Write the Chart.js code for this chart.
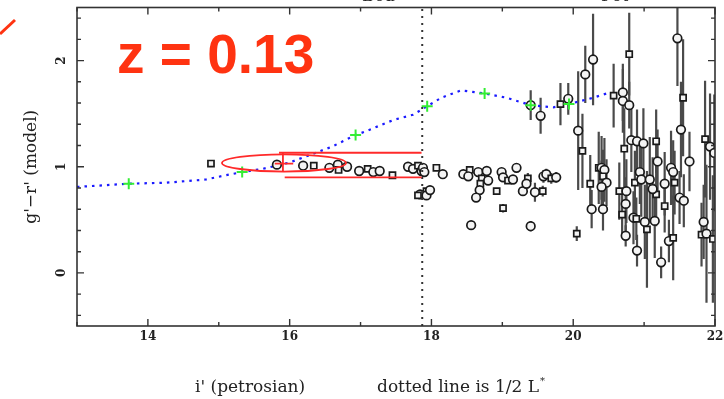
<!DOCTYPE html>
<html>
<head>
<meta charset="utf-8">
<script src="https://cdn.jsdelivr.net/npm/chart.js@4.4.1/dist/chart.umd.min.js"></script>
<style>
  body { margin: 0; background: #fff; }
  canvas { display: block; }
</style>
</head>
<body>
<canvas id="chart" width="724" height="399"></canvas>
<script>
// galaxies: i' petrosian magnitude, g'-r' model colour, error on colour
const galMag = [
  14.89, 15.82, 16.19, 16.34, 16.56, 16.68, 16.69, 16.81, 16.98, 17.10,
  17.18, 17.27, 17.45, 17.67, 17.74, 17.81, 17.86, 17.84, 17.93, 17.88,
  17.90, 17.81, 17.93, 17.98, 18.07, 18.16, 18.45, 18.54, 18.52, 18.66,
  18.71, 18.78, 18.80, 18.69, 18.68, 18.63, 18.92, 18.99, 19.01, 19.08,
  19.15, 19.20, 19.01, 18.56, 19.29, 19.36, 19.34, 19.46, 19.57, 19.58,
  19.62, 19.69, 19.76, 19.40, 20.05, 19.40, 19.54, 19.82, 19.93,
  20.07, 20.13, 20.17, 20.28, 20.57, 20.70, 20.70, 20.79, 20.79, 20.82,
  20.72, 20.90, 20.99, 21.17, 21.19, 21.47, 21.55, 21.52, 21.64, 21.86,
  21.93, 21.99, 20.36, 20.40, 20.44, 20.42, 20.47, 20.40, 20.24, 20.26,
  20.42, 20.65, 20.75, 20.74, 20.69, 20.74, 20.85, 20.89, 20.90, 20.94,
  20.87, 20.96, 21.01, 21.04, 21.08, 21.15, 21.17, 21.12, 21.29, 21.29,
  21.24, 21.35, 21.41, 21.38, 21.41, 21.43, 21.50, 21.56, 21.81, 21.84,
  21.88, 21.97
];
const galColor = [
  1.03, 1.02, 1.01, 1.01, 0.99, 1.02, 0.97, 1.00, 0.96, 0.98,
  0.95, 0.96, 0.92, 1.00, 0.98, 1.01, 0.96, 0.74, 0.77, 0.99,
  0.95, 0.73, 0.73, 0.78, 0.99, 0.93, 0.93, 0.97, 0.91, 0.95,
  0.89, 0.96, 0.87, 0.84, 0.78, 0.71, 0.77, 0.95, 0.90, 0.87,
  0.88, 0.99, 0.61, 0.45, 0.77, 0.89, 0.84, 0.76, 0.77, 0.91,
  0.93, 0.89, 0.90, 0.44, 0.37, 1.58, 1.48, 1.59, 1.64,
  1.34, 1.15, 1.87, 2.01, 1.67, 1.70, 1.62, 2.06, 1.58, 1.25,
  1.17, 1.24, 1.22, 1.24, 1.05, 2.21, 1.65, 1.35, 1.05, 1.26,
  1.19, 1.13, 0.99, 0.99, 0.97, 0.91, 0.85, 0.81, 0.84, 0.60,
  0.60, 0.77, 0.77, 0.65, 0.55, 0.35, 0.52, 0.51, 0.21, 0.95,
  0.85, 0.88, 0.48, 0.41, 0.88, 0.49, 0.74, 0.79, 0.84, 0.63,
  0.10, 0.30, 0.33, 0.99, 0.95, 0.85, 0.71, 0.68, 0.36, 0.48,
  0.37, 0.32
];
const galErr = [
  0.02, 0.02, 0.02, 0.02, 0.02, 0.02, 0.02, 0.02, 0.02, 0.02,
  0.02, 0.02, 0.03, 0.02, 0.02, 0.02, 0.02, 0.03, 0.03, 0.02,
  0.02, 0.03, 0.03, 0.03, 0.03, 0.03, 0.03, 0.03, 0.03, 0.03,
  0.03, 0.03, 0.03, 0.03, 0.03, 0.03, 0.03, 0.03, 0.03, 0.03,
  0.03, 0.04, 0.04, 0.03, 0.04, 0.05, 0.04, 0.09, 0.05, 0.06,
  0.05, 0.05, 0.05, 0.05, 0.07, 0.14, 0.17, 0.20, 0.15,
  0.56, 0.35, 0.27, 0.43, 0.30, 0.27, 0.30, 0.39, 0.22, 0.30,
  0.38, 0.30, 0.33, 0.30, 0.30, 0.45, 0.55, 0.45, 0.28, 0.55,
  0.50, 0.55, 0.34, 0.30, 0.30, 0.25, 0.22, 0.25, 0.27, 0.18,
  0.20, 0.27, 0.30, 0.25, 0.20, 0.10, 0.25, 0.20, 0.15, 0.30,
  0.30, 0.35, 0.35, 0.55, 0.40, 0.35, 0.30, 0.30, 0.30, 0.25,
  0.15, 0.20, 0.40, 0.35, 0.30, 0.30, 0.25, 0.25, 0.30, 0.35,
  0.65, 0.60
];

// model red sequence (blue dotted) and its marked points (green)
const modelMag = [13.0, 13.73, 14.26, 14.82, 15.1, 15.33, 15.62, 16.0, 16.28, 16.6, 16.93, 17.06,
  17.46, 17.74, 17.94, 18.14, 18.42, 18.75, 19.06, 19.40, 19.72, 19.94, 20.28, 20.52];
const modelColor = [0.81, 0.84, 0.85, 0.88, 0.92, 0.95, 0.98, 1.04, 1.11, 1.19, 1.30, 1.33,
  1.44, 1.49, 1.57, 1.65, 1.72, 1.69, 1.65, 1.58, 1.56, 1.59, 1.65, 1.70];
const markMag = [13.73, 15.33, 16.93, 17.94, 18.75, 19.40, 19.94];
const markColor = [0.84, 0.95, 1.30, 1.57, 1.69, 1.58, 1.59];

// half L* magnitude, BCG ellipse and colour bracket (data units)
const halfLstar = 17.87;
const ellipseCenter = [15.92, 1.036];
const ellipseRadius = [0.875, 0.081];
const bracketLines = [
  [15.85, 1.132, 17.86, 1.132],
  [15.905, 1.132, 15.905, 0.955],
  [15.79, 1.03, 16.05, 1.03],
  [15.93, 0.90, 17.86, 0.90]
];

const xTicks = [14, 16, 18, 20, 22];
const xMinor = [13, 15, 17, 19, 21];
const yTicks = [0, 1, 2];
const yMinor = [-0.4, -0.2, 0.2, 0.4, 0.6, 0.8, 1.2, 1.4, 1.6, 1.8, 2.2, 2.4];

const serif = '"DejaVu Serif", "Liberation Serif", serif';

const errorBars = {
  id: 'errorBars',
  beforeDatasetsDraw(chart) {
    const { ctx, chartArea: a, scales: { x, y } } = chart;
    ctx.save();
    ctx.beginPath();
    ctx.rect(a.left, a.top, a.right - a.left, a.bottom - a.top);
    ctx.clip();
    ctx.strokeStyle = '#4a4a4a';
    ctx.lineWidth = 2.2;
    galMag.forEach((m, i) => {
      const px = x.getPixelForValue(m);
      ctx.beginPath();
      ctx.moveTo(px, y.getPixelForValue(galColor[i] + galErr[i]));
      ctx.lineTo(px, y.getPixelForValue(galColor[i] - galErr[i]));
      ctx.stroke();
    });
    ctx.restore();
  }
};

const overlays = {
  id: 'overlays',
  afterDatasetsDraw(chart) {
    const { ctx, chartArea: a, scales: { x, y } } = chart;
    ctx.save();
    ctx.beginPath();
    ctx.rect(a.left, a.top, a.right - a.left, a.bottom - a.top);
    ctx.clip();

    // dotted half L* line
    ctx.strokeStyle = '#333';
    ctx.lineWidth = 2;
    ctx.setLineDash([2, 5]);
    const lx = x.getPixelForValue(halfLstar);
    ctx.beginPath();
    ctx.moveTo(lx, a.bottom);
    ctx.lineTo(lx, a.top);
    ctx.stroke();
    ctx.setLineDash([]);

    // BCG ellipse + bracket
    ctx.strokeStyle = '#ff2a2a';
    ctx.lineWidth = 1.8;
    const cx = x.getPixelForValue(ellipseCenter[0]);
    const cy = y.getPixelForValue(ellipseCenter[1]);
    const rx = Math.abs(x.getPixelForValue(ellipseCenter[0] + ellipseRadius[0]) - cx);
    const ry = Math.abs(y.getPixelForValue(ellipseCenter[1] + ellipseRadius[1]) - cy);
    ctx.beginPath();
    ctx.ellipse(cx, cy, rx, ry, 0, 0, Math.PI * 2);
    ctx.stroke();
    bracketLines.forEach(([x1, y1, x2, y2]) => {
      ctx.beginPath();
      ctx.moveTo(x.getPixelForValue(x1), y.getPixelForValue(y1));
      ctx.lineTo(x.getPixelForValue(x2), y.getPixelForValue(y2));
      ctx.stroke();
    });
    ctx.restore();
  },
  afterDraw(chart) {
    const { ctx, chartArea: a, scales: { x, y } } = chart;
    ctx.save();

    // frame
    ctx.strokeStyle = '#333';
    ctx.lineWidth = 1.6;
    ctx.strokeRect(a.left, a.top, a.right - a.left, a.bottom - a.top);

    // inward ticks on all sides
    ctx.lineWidth = 1.4;
    const xt = (v, len) => {
      const px = x.getPixelForValue(v);
      ctx.beginPath();
      ctx.moveTo(px, a.bottom); ctx.lineTo(px, a.bottom - len);
      ctx.moveTo(px, a.top); ctx.lineTo(px, a.top + len);
      ctx.stroke();
    };
    const yt = (v, len) => {
      const py = y.getPixelForValue(v);
      ctx.beginPath();
      ctx.moveTo(a.left, py); ctx.lineTo(a.left + len, py);
      ctx.moveTo(a.right, py); ctx.lineTo(a.right - len, py);
      ctx.stroke();
    };
    xTicks.forEach(v => xt(v, 7));
    xMinor.forEach(v => xt(v, 4));
    yTicks.forEach(v => yt(v, 7));
    yMinor.forEach(v => yt(v, 4));

    // tick labels
    ctx.fillStyle = '#222';
    ctx.font = 'bold 12px ' + serif;
    ctx.textAlign = 'center';
    ctx.textBaseline = 'middle';
    xTicks.forEach(v => ctx.fillText(String(v), x.getPixelForValue(v), 337));
    yTicks.forEach(v => {
      ctx.save();
      ctx.translate(62, y.getPixelForValue(v));
      ctx.rotate(-Math.PI / 2);
      ctx.fillText(String(v), 0, 0);
      ctx.restore();
    });

    // axis titles
    ctx.font = '17px ' + serif;
    ctx.textBaseline = 'alphabetic';
    ctx.textAlign = 'left';
    ctx.fillText("i' (petrosian)", 195, 392);
    const note = 'dotted line is 1/2 L';
    ctx.fillText(note, 377, 392);
    const nw = ctx.measureText(note).width;
    ctx.font = '10px ' + serif;
    ctx.fillText('*', 377 + nw + 1, 384);

    ctx.font = '17px ' + serif;
    ctx.save();
    ctx.translate(36, (a.top + a.bottom) / 2);
    ctx.rotate(-Math.PI / 2);
    ctx.textAlign = 'center';
    ctx.fillText("g'\u2212r' (model)", 0, 0);
    ctx.restore();

    // clipped labels above the frame
    ctx.fillText('Bcd', 362, 1);
    ctx.fillText('Fot', 601, 1);

    // redshift title and annotation stroke
    ctx.fillStyle = '#ff3311';
    ctx.font = 'bold 55px "Liberation Sans", Arial, sans-serif';
    ctx.fillText('z = 0.13', 117, 73);
    ctx.strokeStyle = '#ff3311';
    ctx.lineWidth = 3;
    ctx.beginPath();
    ctx.moveTo(0, 34);
    ctx.lineTo(15, 20);
    ctx.stroke();

    ctx.restore();
  }
};

const ctx = document.getElementById('chart').getContext('2d');
new Chart(ctx, {
  type: 'scatter',
  data: {
    datasets: [
      {
        label: 'model marks',
        data: markMag.map((m, i) => ({ x: m, y: markColor[i] })),
        pointStyle: 'cross',
        pointRadius: 5.5,
        borderColor: '#33ee33',
        borderWidth: 2
      },
      {
        label: 'galaxies',
        data: galMag.map((m, i) => ({ x: m, y: galColor[i] })),
        pointStyle: c => (c.dataIndex % 3 === 0 ? 'rect' : 'circle'),
        pointRadius: 4.3,
        borderColor: '#1a1a1a',
        borderWidth: 1.7,
        backgroundColor: '#f4f4f4'
      },
      {
        label: 'model',
        type: 'line',
        data: modelMag.map((m, i) => ({ x: m, y: modelColor[i] })),
        borderColor: '#1a1aff',
        borderWidth: 2.2,
        borderDash: [2.5, 5],
        pointRadius: 0,
        fill: false,
        tension: 0
      }
    ]
  },
  options: {
    responsive: false,
    animation: false,
    layout: { padding: { left: 77, right: 9, top: 5, bottom: 73 } },
    scales: {
      x: { type: 'linear', min: 13, max: 22, display: false },
      y: { type: 'linear', min: -0.5, max: 2.5, display: false }
    },
    plugins: {
      legend: { display: false },
      tooltip: { enabled: false }
    }
  },
  plugins: [errorBars, overlays]
});
</script>
</body>
</html>
